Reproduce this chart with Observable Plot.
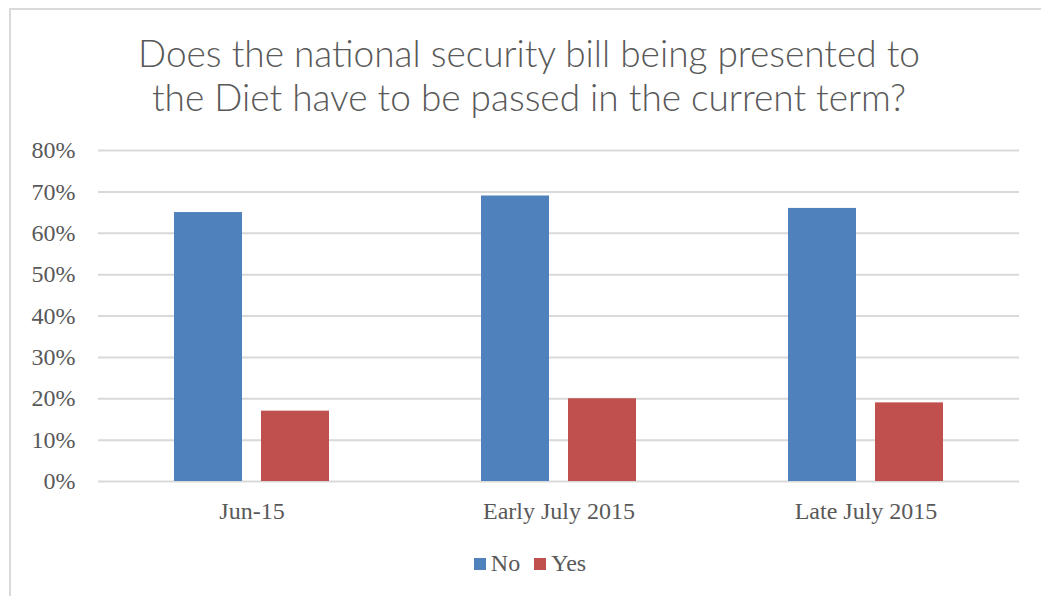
<!DOCTYPE html>
<html>
<head>
<meta charset="utf-8">
<script src="https://cdn.jsdelivr.net/npm/d3@7"></script>
<script src="https://cdn.jsdelivr.net/npm/@observablehq/plot@0.6"></script>
<style>
  html, body { margin: 0; padding: 0; background: #fff; width: 1041px; height: 596px; overflow: hidden; }
  #frame { position: absolute; left: 9px; top: 8px; width: 1100px; height: 700px;
           border-left: 2px solid #d9d9d9; border-top: 2px solid #d9d9d9; }
  #title { position: absolute; left: 0; top: 31px; width: 1058px; text-align: center;
           font-family: Lato, "Liberation Sans", sans-serif; font-weight: 300; font-size: 37px;
           line-height: 44px; color: #595959; }
  #chart { position: absolute; left: 0; top: 130px; }
  #legend { position: absolute; left: 6px; top: 550px; width: 1048px; display: flex; justify-content: center;
            font-family: "Liberation Serif", serif; font-size: 24px; color: #595959; }
  .item { display: flex; align-items: center; margin: 0 7px; }
  .sw { width: 12px; height: 12px; margin-right: 5px; }
</style>
</head>
<body>
<div id="frame"></div>
<div id="title">Does the national security bill being presented to<br>the Diet have to be passed in the current term?</div>
<div id="chart"></div>
<div id="legend"></div>
<script>
const periods = ["Jun-15", "Early July 2015", "Late July 2015"];
const series = ["No", "Yes"];
const noValues = [0.65, 0.69, 0.66];
const yesValues = [0.17, 0.20, 0.19];
const colors = ["#4f81bd", "#c0504d"];
const yTicks = [0, 0.1, 0.2, 0.3, 0.4, 0.5, 0.6, 0.7, 0.8];

const data = [];
periods.forEach((p, i) => {
  data.push({period: p, answer: "No", value: noValues[i]});
  data.push({period: p, answer: "Yes", value: yesValues[i]});
});

const chart = Plot.plot({
  width: 1041,
  height: 410,
  marginLeft: 97,
  marginRight: 21,
  marginTop: 20,
  marginBottom: 59,
  style: {fontFamily: "'Liberation Serif', serif", fontSize: "24px", color: "#595959", background: "transparent"},
  fx: {domain: periods, padding: 0, label: null, axis: null},
  x: {domain: series, paddingInner: 0.216, paddingOuter: 0.856, axis: null},
  y: {domain: [0, 0.8], label: null, axis: null},
  color: {domain: series, range: colors},
  marks: [
    Plot.ruleY(yTicks, {stroke: "#d9d9d9", strokeWidth: 2}),
    Plot.barY(data, {fx: "period", x: "answer", y: "value", fill: "answer"}),
    Plot.axisY(yTicks, {tickFormat: d3.format(".0%"), tickSize: 0, tickPadding: 23, fontSize: 24, fill: "#595959", label: null}),
    Plot.axisFx({anchor: "bottom", tickSize: 0, tickPadding: 20, fontSize: 24, fill: "#595959", label: null})
  ]
});
document.getElementById("chart").appendChild(chart);

const legend = document.getElementById("legend");
series.forEach((s, i) => {
  const item = document.createElement("div");
  item.className = "item";
  const sw = document.createElement("div");
  sw.className = "sw";
  sw.style.background = colors[i];
  const t = document.createElement("span");
  t.textContent = s;
  item.appendChild(sw);
  item.appendChild(t);
  legend.appendChild(item);
});
</script>
</body>
</html>
